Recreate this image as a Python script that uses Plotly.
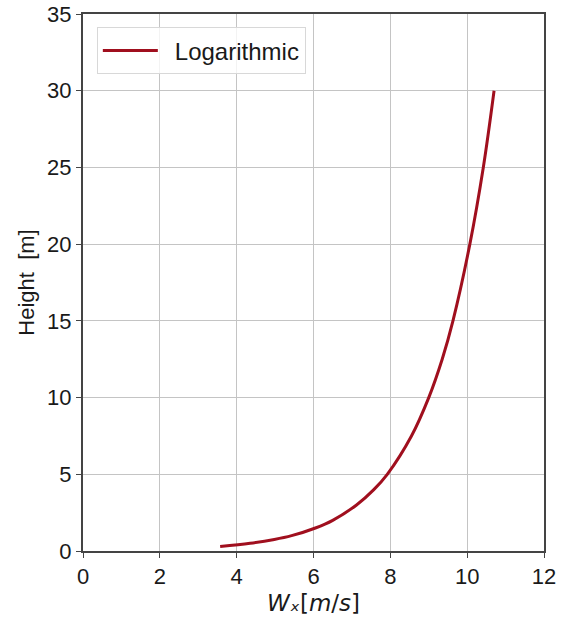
import plotly.graph_objects as go

# Wind speed profile
height_m = [0.3, 0.5, 0.75, 1.0, 1.5, 2.0, 3.0, 4.0, 5.0, 7.5, 10.0, 12.5, 15.0, 20.0, 25.0, 30.0]
speed_ms = [3.57, 4.35, 4.98, 5.43, 6.05, 6.50, 7.12, 7.57, 7.92, 8.55, 9.00, 9.35, 9.63, 10.07, 10.42, 10.70]

x_ticks = [0, 2, 4, 6, 8, 10, 12]
y_ticks = [0, 5, 10, 15, 20, 25, 30, 35]

font_family = "Liberation Sans, Arial, sans-serif"

fig = go.Figure()
fig.add_trace(go.Scatter(
    x=speed_ms, y=height_m, mode="lines", name="\u2002Logarithmic",
    line=dict(color="#a00f1e", width=3, shape="spline"),
))

axis_common = dict(
    showline=True, linecolor="#444444", linewidth=2, mirror=True,
    showgrid=True, gridcolor="#c4c4c4", gridwidth=1,
    ticks="outside", ticklen=5, tickwidth=1.2, tickcolor="#444444",
    tickfont=dict(family=font_family, size=22, color="#1a1a1a"),
    zeroline=False, automargin=False,
)

fig.update_layout(
    width=564, height=618,
    margin=dict(l=83, r=20, t=14, b=67),
    paper_bgcolor="white", plot_bgcolor="white",
    font=dict(family=font_family, color="#1a1a1a"),
    showlegend=True,
    legend=dict(
        x=0.03, y=0.975, xanchor="left", yanchor="top",
        bgcolor="rgba(255,255,255,0.8)", bordercolor="#d8d8d8", borderwidth=1,
        font=dict(family=font_family, size=24, color="#1a1a1a"),
        itemwidth=55, tracegroupgap=0,
    ),
    xaxis=dict(range=[0, 12], tickvals=x_ticks, **axis_common),
    yaxis=dict(
        range=[0, 35], tickvals=y_ticks,
        title=dict(text="Height  [m]", font=dict(family=font_family, size=22), standoff=6),
        **axis_common,
    ),
)

# x-axis title placed just under the tick labels (subscript x as a Unicode glyph)
fig.add_annotation(
    text="<i>W\u2093</i>[<i>m</i>/<i>s</i>]",
    xref="paper", yref="paper", x=0.5, y=-0.097,
    xanchor="center", yanchor="middle", showarrow=False,
    font=dict(family="DejaVu Sans, Liberation Sans, sans-serif", size=23, color="#1a1a1a"),
)

fig.write_html("out.html")
